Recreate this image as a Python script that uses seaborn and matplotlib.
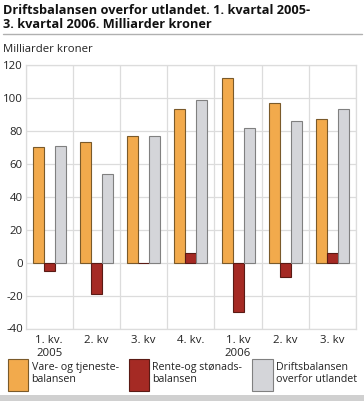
import matplotlib
matplotlib.use("Agg")
import matplotlib.pyplot as plt
import seaborn as sns
import pandas as pd
import numpy as np
from matplotlib.patches import Patch
from matplotlib.colors import to_hex

quarters = ["1. kv.\n2005", "2. kv", "3. kv", "4. kv.", "1. kv\n2006", "2. kv", "3. kv"]
series_names = ["Vare- og tjeneste-\nbalansen", "Rente-og stønads-\nbalansen", "Driftsbalansen\noverfor utlandet"]
vare = [70, 73, 77, 93, 112, 97, 87]
rente = [-5, -19, 0, 6, -30, -9, 6]
drift = [71, 54, 77, 99, 82, 86, 93]
colors = ["#F2AA4C", "#A52A24", "#D4D5D9"]
edges = ["#7a5a2a", "#5a1a14", "#808080"]

sns.set_theme(style="white")
plt.rcParams['font.family'] = ['Open Sans', 'DejaVu Sans']
plt.rcParams['axes.unicode_minus'] = False

rows = []
for i, q in enumerate(quarters):
    for name, vals in zip(series_names, [vare, rente, drift]):
        rows.append({"kvartal": f"{i}", "serie": name, "verdi": vals[i]})
df = pd.DataFrame(rows)

fig = plt.figure(figsize=(3.64, 4.01), dpi=100)
ax = fig.add_axes([25.7/364, 1-328.5/401, (356-25.7)/364, (328.5-65)/401])

sns.barplot(data=df, x="kvartal", y="verdi", hue="serie", palette=colors,
            hue_order=series_names, width=0.7, gap=0, saturation=1,
            edgecolor="none", linewidth=0.8, legend=False, ax=ax, zorder=3)

for p in ax.patches:
    fc = to_hex(p.get_facecolor())
    for c, e in zip(colors, edges):
        if fc.lower() == c.lower():
            p.set_edgecolor(e)
            p.set_linewidth(0.8)

ax.set_ylim(-40, 120)
ax.set_xlim(-0.5, 6.5)
ax.set_yticks(np.arange(-40, 121, 20))
ax.set_xticks(range(7))
ax.set_xticklabels(quarters)
ax.set_xticks(np.arange(-0.5, 7, 1), minor=True)
ax.grid(True, axis="y", color="#dcdcdc", linewidth=0.9, zorder=0)
ax.grid(True, axis="x", which="minor", color="#dcdcdc", linewidth=0.9, zorder=0)
ax.grid(False, axis="x", which="major")
ax.set_axisbelow(True)
for s in ax.spines.values():
    s.set_color("#dcdcdc")
    s.set_linewidth(0.9)
ax.tick_params(axis="both", which="both", length=0, labelsize=8.2, colors="#222222")
ax.tick_params(axis="y", pad=2)
ax.tick_params(axis="x", pad=5)
for t in ax.get_xticklabels():
    t.set_linespacing(1.2)
ax.set_xlabel("")
ax.set_ylabel("")

fig.text(3/364, 1-4/401, "Driftsbalansen overfor utlandet. 1. kvartal 2005-\n3. kvartal 2006. Milliarder kroner",
         fontsize=9.2, fontweight="bold", va="top", ha="left", linespacing=1.1, color="#111111")
fig.add_artist(plt.Line2D([3/364, 1-2/364], [1-33.5/401, 1-33.5/401], color="#b0b0b0", linewidth=1))
fig.text(3/364, 1-50/401, "Milliarder kroner", fontsize=8.2, va="center", ha="left", color="#222222")

handles = [Patch(facecolor=c, edgecolor=e, linewidth=0.8) for c, e in zip(colors, edges)]
leg = fig.legend(handles, series_names, loc="lower left", bbox_to_anchor=(8/364, 10/401),
                 ncol=3, frameon=False, fontsize=7.7, handlelength=1.9, handleheight=4.2,
                 handletextpad=0.3, columnspacing=0.95, borderaxespad=0, borderpad=0)
for t in leg.get_texts():
    t.set_linespacing(1.1)
    t.set_color("#222222")

fig.add_artist(plt.Rectangle((0, 0), 1, 6/401, transform=fig.transFigure, color="#d0d0d0", lw=0))

fig.savefig("out.png", dpi=100)
